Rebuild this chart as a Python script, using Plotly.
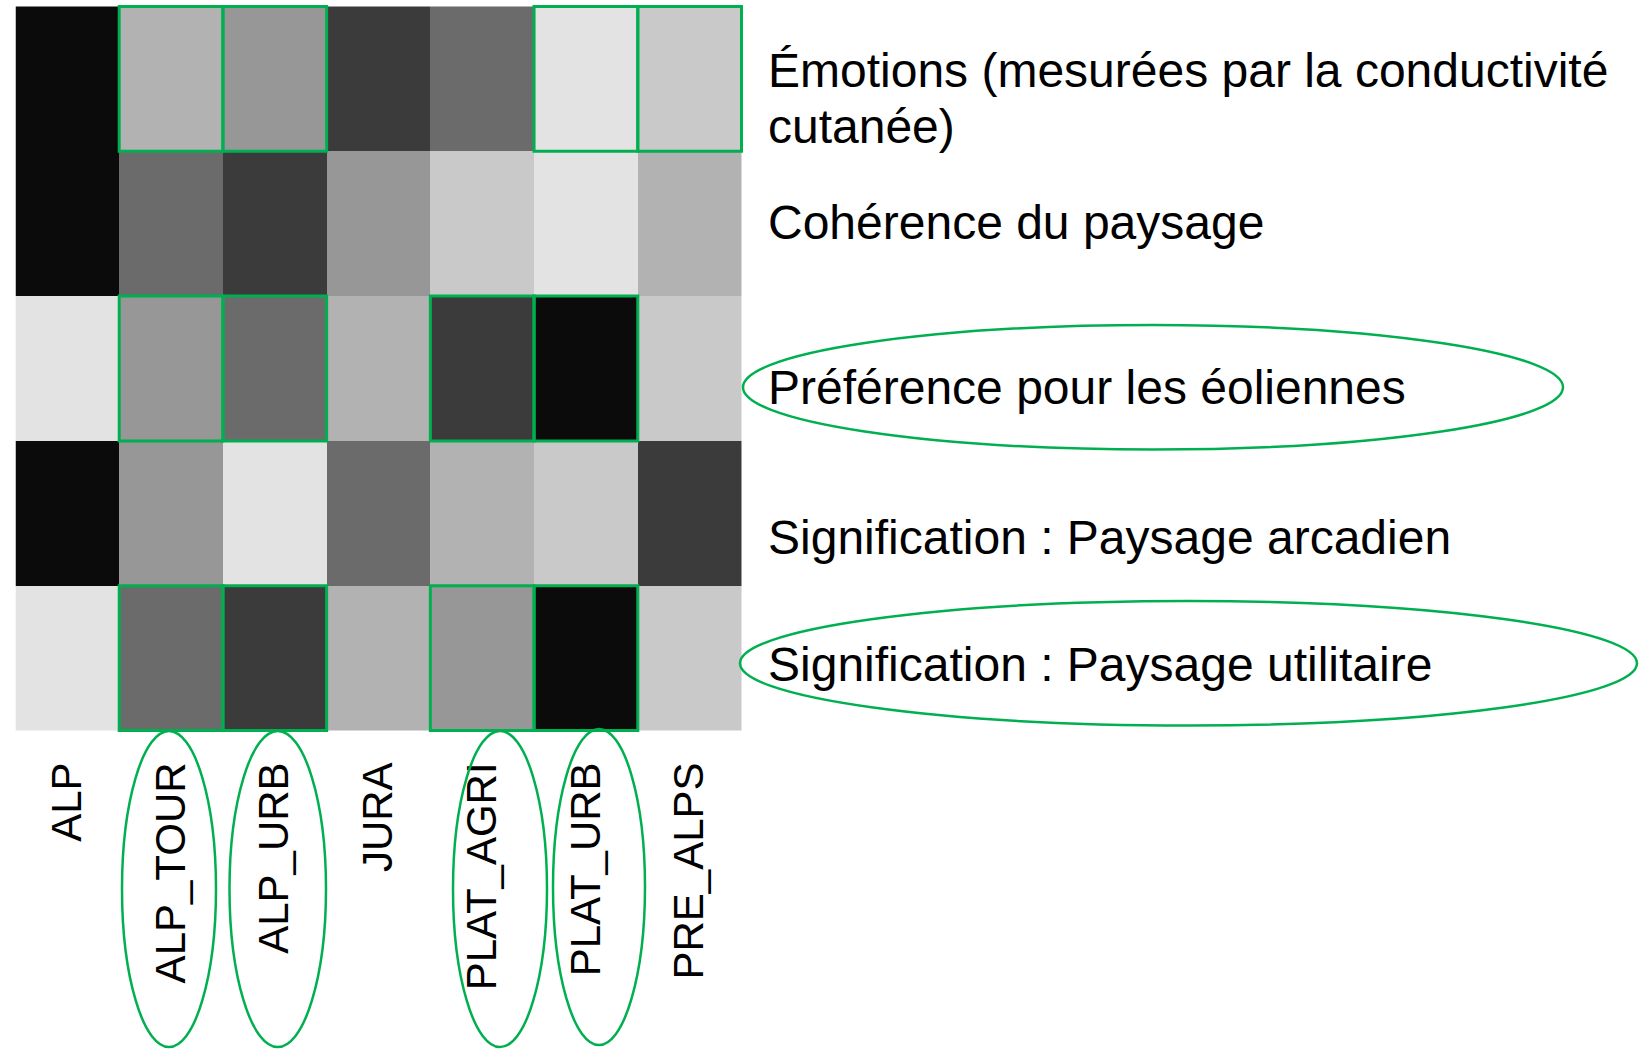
import plotly.graph_objects as go

# Landscape types (columns) and evaluation criteria (rows)
regions = ["ALP", "ALP_TOUR", "ALP_URB", "JURA", "PLAT_AGRI", "PLAT_URB", "PRE_ALPS"]
criteria = [
    "Émotions (mesurées par la conductivité cutanée)",
    "Cohérence du paysage",
    "Préférence pour les éoliennes",
    "Signification : Paysage arcadien",
    "Signification : Paysage utilitaire",
]

# Rank of each landscape type within a criterion (1 = darkest, 7 = lightest)
rank_emotions = [1, 5, 4, 2, 3, 7, 6]
rank_coherence = [1, 3, 2, 4, 6, 7, 5]
rank_preference = [7, 4, 3, 5, 2, 1, 6]
rank_arcadien = [1, 4, 7, 3, 5, 6, 2]
rank_utilitaire = [7, 3, 2, 5, 4, 1, 6]

# Highlighted cells per criterion, circled criteria and circled regions
highlight_emotions = ["ALP_TOUR", "ALP_URB", "PLAT_URB", "PRE_ALPS"]
highlight_preference = ["ALP_TOUR", "ALP_URB", "PLAT_AGRI", "PLAT_URB"]
highlight_utilitaire = ["ALP_TOUR", "ALP_URB", "PLAT_AGRI", "PLAT_URB"]
circled_criteria = ["Préférence pour les éoliennes", "Signification : Paysage utilitaire"]
circled_regions = ["ALP_TOUR", "ALP_URB", "PLAT_AGRI", "PLAT_URB"]

# ---- styling / layout constants ----
W, H = 1639, 1049
GREEN = "#00B050"
FONT = "Liberation Sans, Arial"
grays = [11, 59, 107, 151, 178, 201, 227]
PLOT_X = (15.5, 743.0)   # pixel extent of heatmap
PLOT_Y = (5.0, 732.0)

def px_x(p):
    return p / W

def px_y(p):
    return 1 - p / H

z = [rank_emotions, rank_coherence, rank_preference, rank_arcadien, rank_utilitaire]

# stepped grayscale: one flat band per rank
n = len(grays)
colorscale = []
for i, g in enumerate(grays):
    c = f"rgb({g},{g},{g})"
    colorscale.append([i / n, c])
    colorscale.append([(i + 1) / n, c])

fig = go.Figure(
    go.Heatmap(
        z=z,
        x=regions,
        y=list(range(len(criteria))),
        colorscale=colorscale,
        zmin=0.5,
        zmax=n + 0.5,
        showscale=False,
        hoverinfo="skip",
    )
)

shapes = []
# green frames around highlighted cells
for row_name, cols in [
    (criteria[0], highlight_emotions),
    (criteria[2], highlight_preference),
    (criteria[4], highlight_utilitaire),
]:
    r = criteria.index(row_name)
    for col in cols:
        c = regions.index(col)
        shapes.append(dict(
            type="rect", xref="x", yref="y",
            x0=c - 0.5, x1=c + 0.5, y0=r - 0.5, y1=r + 0.5,
            line=dict(color=GREEN, width=3), layer="above",
        ))

# criterion labels (left-aligned to the right of the heatmap)
label_x = 767
label_centers = {
    criteria[0]: [70.6, 126.5],
    criteria[1]: [222.6],
    criteria[2]: [387.8],
    criteria[3]: [537.3],
    criteria[4]: [664.8],
}
label_lines = {
    criteria[0]: ["Émotions (mesurées par la conductivité", "cutanée)"],
}
annotations = []
for name in criteria:
    lines = label_lines.get(name, [name])
    for text, yc in zip(lines, label_centers[name]):
        annotations.append(dict(
            text=text, xref="paper", yref="paper",
            x=px_x(label_x), y=px_y(yc),
            xanchor="left", yanchor="middle", showarrow=False,
            borderpad=0,
            font=dict(family=FONT, size=48, color="black"),
        ))

# ellipses around circled criteria labels (pixel extents)
criteria_ellipses = {
    criteria[2]: (743, 1563, 325, 449.5),
    criteria[4]: (740, 1637, 601, 725.5),
}
for name in circled_criteria:
    x0, x1, y0, y1 = criteria_ellipses[name]
    shapes.append(dict(
        type="circle", xref="paper", yref="paper",
        x0=px_x(x0), x1=px_x(x1), y0=px_y(y1), y1=px_y(y0),
        line=dict(color=GREEN, width=2.5),
    ))

# ellipses around circled region labels (pixel extents)
region_ellipses = {
    "ALP_TOUR": (122, 216, 731, 1047),
    "ALP_URB": (229.5, 326, 731, 1047),
    "PLAT_AGRI": (453, 547, 731, 1047),
    "PLAT_URB": (553, 645, 729, 1045),
}
for name in circled_regions:
    x0, x1, y0, y1 = region_ellipses[name]
    shapes.append(dict(
        type="circle", xref="paper", yref="paper",
        x0=px_x(x0), x1=px_x(x1), y0=px_y(y1), y1=px_y(y0),
        line=dict(color=GREEN, width=2.5),
    ))

fig.update_layout(
    width=W, height=H,
    margin=dict(l=0, r=0, t=0, b=0),
    paper_bgcolor="white",
    plot_bgcolor="white",
    shapes=shapes,
    annotations=annotations,
    xaxis=dict(
        domain=[px_x(PLOT_X[0]), px_x(PLOT_X[1])],
        tickangle=-90,
        ticks="",
        showgrid=False, zeroline=False, showline=False,
        tickfont=dict(family=FONT, size=42, color="black"),
        ticklabelstandoff=21,
        automargin=False,
    ),
    yaxis=dict(
        domain=[px_y(PLOT_Y[1]), px_y(PLOT_Y[0])],
        autorange="reversed",
        showticklabels=False,
        ticks="",
        showgrid=False, zeroline=False, showline=False,
        automargin=False,
    ),
)

fig.write_html("out.html")
